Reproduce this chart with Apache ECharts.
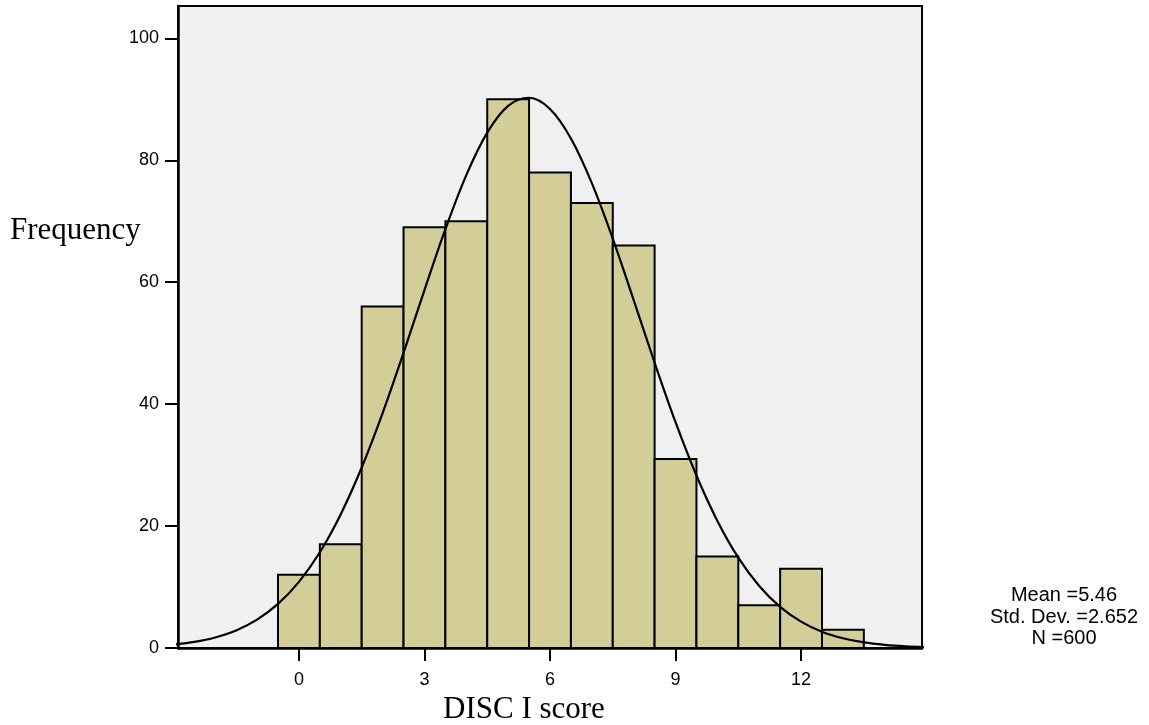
<!DOCTYPE html>
<html>
<head>
<meta charset="utf-8">
<script src="https://cdn.jsdelivr.net/npm/echarts@6/dist/echarts.min.js"></script>
<style>
html,body{margin:0;padding:0;background:#fff;}
#chart{width:1149px;height:725px;}
</style>
</head>
<body>
<div id="chart"></div>
<script>
// Histogram bins (DISC I score) and frequencies
const scores = [0,1,2,3,4,5,6,7,8,9,10,11,12,13];
const frequencies = [12,17,56,69,70,90,78,73,66,31,15,7,13,3];
// Normal curve (x, frequency)
const curveX = [-3,-2.5,-2,-1.5,-1,-0.5,0,0.5,1,1.5,2,2.5,3,3.5,4,4.5,5,5.5,6,6.5,7,7.5,8,8.5,9,9.5,10,10.5,11,11.5,12,12.5,13,13.5,14,14.5,15];
const curveY = [0.56,1.0,1.73,2.88,4.65,7.23,10.84,15.7,21.95,29.6,38.53,48.42,58.71,68.69,77.57,84.54,88.92,90.25,88.41,83.58,76.25,67.14,57.06,46.79,37.03,28.29,20.85,14.83,10.18,6.75,4.32,2.66,1.59,0.91,0.51,0.27,0.14];
const xTicks = [0,3,6,9,12];
const yTicks = [0,20,40,60,80,100];
const statsLines = ['Mean =5.46','Std. Dev. =2.652','N =600'];

const sans = '"Liberation Sans", Arial, sans-serif';
const serif = '"Liberation Serif", "Times New Roman", serif';

const chart = echarts.init(document.getElementById('chart'), null, {renderer:'canvas'});

const barData = scores.map((s,i)=>[s, frequencies[i]]);
const curveData = curveX.map((x,i)=>[x, curveY[i]]);

const option = {
  animation:false,
  backgroundColor:'#ffffff',
  grid:{left:178,right:227,top:6,bottom:77,show:true,backgroundColor:'#f0f0f0',borderColor:'#000',borderWidth:2},
  xAxis:{
    type:'value', min:-2.89, max:14.89,
    axisLine:{show:true,onZero:false,lineStyle:{color:'#000',width:2.5}},
    axisTick:{show:true,inside:false,length:13,lineStyle:{color:'#000',width:2},customValues:xTicks},
    axisLabel:{show:true,color:'#000',fontFamily:sans,fontSize:18,margin:23,customValues:xTicks},
    splitLine:{show:false}
  },
  yAxis:{
    type:'value', min:0, max:105.3,
    axisLine:{show:true,onZero:false,lineStyle:{color:'#000',width:2.5}},
    axisTick:{show:true,inside:false,length:13,lineStyle:{color:'#000',width:2},customValues:yTicks},
    axisLabel:{show:true,color:'#000',fontFamily:sans,fontSize:18,margin:19,customValues:yTicks},
    splitLine:{show:false}
  },
  graphic:[
    {type:'text',left:10,top:231-16,style:{text:'Frequency',font:'31px '+serif,fill:'#000'}},
    {type:'text',left:443,top:710-16,style:{text:'DISC I score',font:'31px '+serif,fill:'#000'}},
    {type:'text',x:1064,y:617,style:{text:statsLines.join('\n'),font:'20px '+sans,fill:'#000',align:'center',verticalAlign:'middle',lineHeight:21.7}}
  ],
  series:[
    {
      type:'custom',
      data:barData,
      z:2,
      renderItem:function(params, api){
        const x = api.value(0), y = api.value(1);
        const p1 = api.coord([x-0.5, y]);
        const p2 = api.coord([x+0.5, 0]);
        return {type:'rect',shape:{x:p1[0],y:p1[1],width:p2[0]-p1[0],height:p2[1]-p1[1]},
          style:{fill:'#d3ce98',stroke:'#000',lineWidth:2}};
      }
    },
    {
      type:'line',
      data:curveData,
      z:3,
      smooth:0.35,
      showSymbol:false,
      clip:true,
      lineStyle:{color:'#000',width:2.2}
    }
  ]
};
chart.setOption(option);
</script>
</body>
</html>
